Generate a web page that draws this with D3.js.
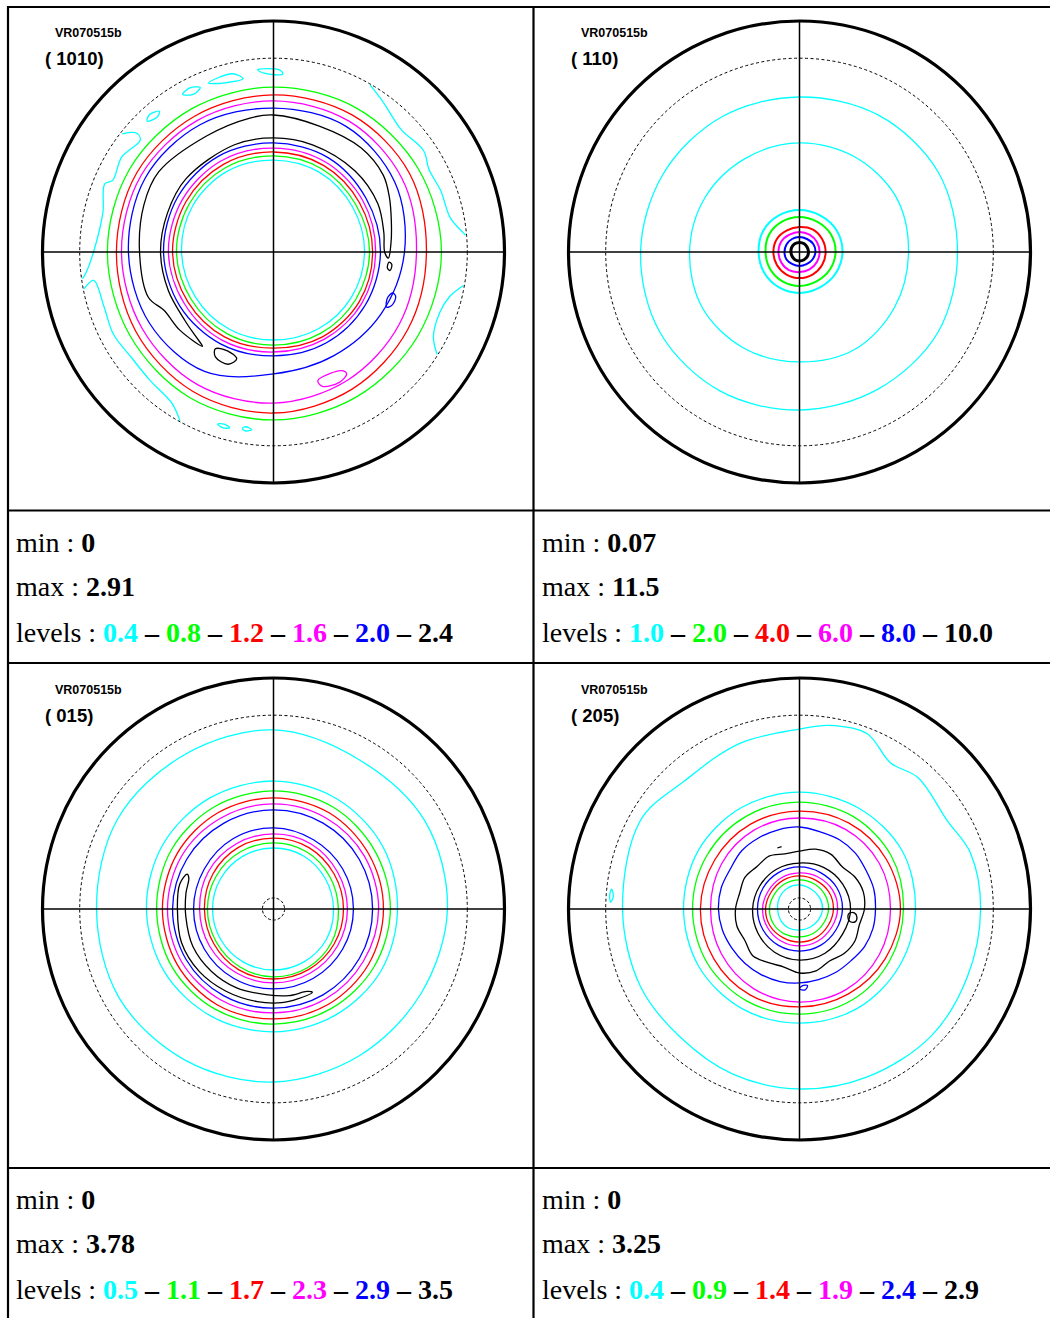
<!DOCTYPE html>
<html><head><meta charset="utf-8">
<script src="https://cdn.jsdelivr.net/npm/d3@7"></script>
<style>body{margin:0;background:#fff}svg{display:block}</style>
</head><body>
<svg id="c" width="1050" height="1318"></svg>
<script>
// ---------------- data ----------------
const sampleName = "VR070515b";
const panelNames = ["( 1010)", "( 110)", "( 015)", "( 205)"];
const minValues = ["0", "0.07", "0", "0"];
const maxValues = ["2.91", "11.5", "3.78", "3.25"];
const levels1010 = ["0.4", "0.8", "1.2", "1.6", "2.0", "2.4"];
const levels110 = ["1.0", "2.0", "4.0", "6.0", "8.0", "10.0"];
const levels015 = ["0.5", "1.1", "1.7", "2.3", "2.9", "3.5"];
const levels205 = ["0.4", "0.9", "1.4", "1.9", "2.4", "2.9"];
const levelColors = ["#00ffff", "#00ff00", "#ff0000", "#ff00ff", "#0000ff", "#000000"];
const dashedChiRadius = 83.9;   // chi = 80 deg circle, % of pole figure radius
const centerMarkRadius = 4.8;

// azimuths (deg, clockwise from top) for ring contours
const az12 = [0, 30, 60, 90, 120, 150, 180, 210, 240, 270, 300, 330];
const az24 = [0, 15, 30, 45, 60, 75, 90, 105, 120, 135, 150, 165, 180, 195, 210, 225, 240, 255, 270, 285, 300, 315, 330, 345];

// ring contours: level index + radii (% of pole figure radius)
const rings1010 = [
  [0, [39.8, 39.8, 39.4, 39.4, 39.0, 38.5, 38.1, 38.5, 39.0, 39.8, 40.3, 40.3]],
  [1, [41.6, 41.6, 41.1, 41.6, 41.1, 40.7, 40.3, 40.7, 41.1, 42.0, 42.0, 42.0]],
  [2, [43.3, 43.3, 42.9, 42.9, 42.9, 42.4, 41.6, 42.4, 42.9, 43.7, 43.7, 43.7]],
  [3, [45.0, 45.0, 44.6, 44.2, 44.2, 43.7, 43.3, 44.2, 44.6, 45.5, 45.5, 45.5]],
  [4, [47.2, 47.2, 46.3, 46.3, 45.9, 45.5, 45.0, 45.9, 46.8, 47.6, 47.8, 47.8]],
  [4, [62.3, 62.8, 60.6, 56.7, 53.7, 51.9, 52.8, 59.7, 61.9, 62.8, 64.1, 63.6]],
  [3, [65.4, 65.4, 64.1, 61.9, 62.8, 64.1, 65.4, 66.2, 65.8, 65.8, 66.2, 65.8]],
  [2, [68.0, 68.4, 68.0, 66.2, 67.1, 68.4, 69.7, 69.7, 68.8, 68.0, 68.4, 68.0]],
  [1, [71.4, 71.9, 72.3, 72.7, 72.3, 72.3, 72.7, 72.7, 71.9, 71.9, 71.9, 71.4]]
];
// free-form contours: level, closed?, points [azimuth, radius%]
const loops1010 = [
  [5, true, [[217, 51.1], [230, 52.8], [242, 53.7], [250, 57.6], [270, 58.0], [290, 59.7], [305, 60.6], [330, 58.0], [350, 58.9], [0, 59.3], [20, 58.0], [40, 58.9], [55, 58.0], [65, 55.4], [75, 52.8], [85, 51.1], [93, 49.8],
             [90, 48.1], [80, 48.5], [65, 49.8], [45, 49.8], [20, 49.4], [0, 49.4], [340, 49.4], [310, 49.4], [290, 48.9], [270, 48.9], [250, 48.5], [232, 48.5], [222, 49.8]]],
  [5, true, [[199, 48.9], [205, 47.2], [211, 48.9], [209, 51.9], [202, 52.4]]],
  [5, true, [[95, 50.2], [98, 49.8], [99, 51.1], [96, 51.5]]],
  [4, true, [[109, 54.5], [112, 53.2], [116, 54.5], [114, 56.3], [110, 56.3]]],
  [3, true, [[150, 59.3], [155, 58.0], [161, 58.9], [160, 61.9], [153, 63.2], [149, 61.5]]],
  [0, false, [[308, 83.1], [311, 78.4], [310, 75.3], [302, 77.5], [294, 76.2], [292, 78.8], [283, 75.8], [270, 77.9], [264, 81.4], [262, 83.5]]],
  [0, false, [[259, 83.5], [261, 78.8], [252, 77.1], [243, 77.9], [233, 76.6], [224, 77.1], [214, 78.8], [210, 82.3], [209, 83.5]]],
  [0, false, [[30, 83.5], [36, 80.5], [46, 76.6], [56, 78.4], [62, 76.2], [70, 77.1], [79, 77.9], [84, 82.3], [85, 83.5]]],
  [0, false, [[100, 83.5], [104, 78.8], [110, 76.6], [118, 78.4], [122, 83.5]]],
  [0, true, [[339, 78.4], [344, 76.2], [350, 76.2], [347, 79.2]]],
  [0, true, [[330, 78.8], [333, 76.6], [336, 77.9], [333, 79.7]]],
  [0, true, [[355, 79.2], [357, 77.5], [3, 77.1], [2, 78.8]]],
  [0, true, [[316, 78.8], [319, 77.1], [321, 78.4], [318, 80.1]]],
  [0, true, [[194, 78.4], [196, 77.5], [198, 78.4], [196, 79.2]]],
  [0, true, [[187, 77.5], [189, 76.6], [190, 77.5], [189, 78.4]]]
];

const rings110 = [
  [0, [67.1, 68.4, 69.3, 68.4, 69.3, 68.4, 68.4, 69.3, 69.7, 68.8, 68.0, 67.5]],
  [0, [47.2, 47.6, 48.1, 47.2, 47.6, 48.5, 47.6, 48.1, 48.5, 47.6, 47.2, 46.8]],
  [0, [18.2, 18.2, 18.6, 18.6, 18.2, 17.7, 17.7, 17.7, 17.7, 17.7, 18.2, 18.2]],
  [1, [15.2, 15.2, 15.6, 15.6, 15.2, 14.7, 14.7, 14.7, 14.7, 14.7, 15.2, 15.2]],
  [2, [10.8, 11.3, 11.3, 11.3, 11.3, 11.3, 11.3, 11.3, 11.3, 11.3, 11.3, 10.8]],
  [3, [8.7, 8.7, 8.7, 8.7, 8.7, 8.7, 8.7, 9.1, 9.1, 9.1, 9.1, 8.7]],
  [4, [6.5, 6.5, 6.9, 6.9, 6.5, 6.1, 6.1, 6.1, 6.5, 6.5, 6.5, 6.5]],
  [5, [4.1, 4.1, 3.9, 3.9, 3.9, 3.9, 3.9, 3.9, 3.7, 3.7, 3.9, 4.1]]
];
const loops110 = [];

const rings015 = [
  [0, [77.5, 74.5, 75.8, 75.3, 73.6, 73.6, 74.9, 75.8, 77.1, 76.6, 77.9, 77.1]],
  [0, [55.4, 55.0, 54.5, 53.7, 53.7, 53.2, 53.2, 53.7, 54.5, 55.0, 55.4, 55.4]],
  [1, [51.1, 51.1, 50.6, 50.6, 50.2, 49.8, 49.8, 50.2, 50.6, 50.6, 51.1, 51.1]],
  [2, [48.1, 48.1, 47.6, 47.6, 47.6, 47.6, 47.6, 48.1, 48.1, 48.1, 48.1, 48.1]],
  [3, [45.5, 45.5, 45.5, 45.5, 45.0, 45.0, 45.0, 45.5, 45.9, 45.9, 45.9, 45.5]],
  [4, [42.9, 42.9, 42.9, 42.9, 42.9, 42.9, 42.9, 43.3, 43.7, 43.7, 43.3, 42.9]],
  [4, [35.1, 34.6, 34.6, 34.6, 34.6, 34.6, 34.6, 34.6, 34.6, 34.6, 34.6, 35.1]],
  [3, [32.5, 32.5, 32.0, 32.0, 32.0, 32.0, 32.0, 32.0, 32.0, 32.0, 32.5, 32.5]],
  [2, [30.7, 30.7, 30.3, 30.3, 30.3, 30.3, 30.3, 30.3, 29.9, 29.9, 30.3, 30.7]],
  [1, [28.6, 28.6, 28.1, 28.1, 29.0, 29.4, 29.4, 29.0, 28.6, 28.6, 28.6, 28.6]],
  [0, [26.4, 26.4, 26.0, 26.0, 26.4, 26.4, 26.4, 26.4, 26.4, 26.4, 26.4, 26.4]]
];
const loops015 = [
  [5, true, [[292, 40.3], [285, 42.0], [270, 41.6], [250, 42.4], [230, 42.0], [210, 41.1], [190, 40.7], [175, 40.7], [165, 40.3], [155, 39.8],
             [158, 38.5], [170, 38.1], [185, 37.2], [205, 37.7], [225, 38.1], [245, 38.5], [265, 38.1], [280, 38.5], [290, 39.0]]]
];

const rings205 = [
  [0, [50.6, 50.6, 51.1, 50.2, 49.8, 49.8, 49.4, 49.8, 50.2, 50.2, 50.6, 50.6]],
  [1, [46.3, 46.3, 45.9, 45.0, 45.0, 45.5, 45.5, 45.9, 46.3, 46.3, 46.3, 46.3]],
  [2, [42.4, 42.9, 43.3, 43.7, 42.9, 42.4, 42.4, 42.9, 42.9, 42.9, 42.4, 42.4]],
  [3, [39.4, 39.8, 39.8, 39.4, 39.8, 40.3, 40.3, 39.8, 39.0, 38.5, 39.0, 39.4]],
  [4, [35.5, 34.6, 34.6, 34.2, 33.3, 33.3, 32.9, 32.9, 32.5, 31.6, 31.6, 31.6, 32.0, 32.5, 32.9, 33.3, 33.8, 34.6, 35.1, 35.1, 34.6, 35.5, 35.5, 35.5]],
  [5, [25.1, 26.8, 27.3, 26.0, 27.7, 28.6, 28.1, 26.8, 27.7, 27.3, 26.0, 27.7, 27.7, 26.0, 26.8, 28.6, 27.3, 28.1, 27.7, 26.8, 27.3, 26.0, 26.4, 24.7]],
  [5, [19.9, 20.8, 21.6, 22.1, 21.6, 22.1, 22.1, 21.6, 20.8, 20.3, 19.9, 19.9]],
  [4, [18.2, 18.2, 18.6, 18.6, 18.2, 18.2, 18.2, 18.2, 18.2, 18.2, 18.2, 18.2]],
  [3, [15.6, 16.0, 16.5, 16.5, 16.0, 16.0, 16.0, 16.0, 16.0, 16.0, 15.6, 15.6]],
  [2, [14.3, 14.3, 14.7, 14.7, 14.3, 14.3, 14.3, 14.3, 14.7, 14.7, 14.3, 14.3]],
  [1, [12.6, 12.6, 12.6, 12.6, 12.1, 12.1, 12.1, 12.6, 13.0, 13.0, 12.6, 12.6]],
  [0, [10.4, 10.0, 10.0, 10.0, 9.5, 9.1, 9.1, 9.5, 9.5, 9.5, 10.0, 10.4]]
];
const loops205 = [
  [0, true, [[0, 77.9], [9, 80.5], [21, 81.4], [32, 74.5], [42, 76.6], [59, 74.5], [72, 77.9], [90, 78.4], [112, 78.4], [134, 79.2], [158, 78.4], [180, 77.9], [202, 77.1], [223, 75.8], [244, 76.6], [270, 76.6], [299, 78.8], [318, 74.5], [340, 76.2]]],
  [0, true, [[272, 81.8], [274, 80.8], [276, 81.8], [274, 82.4]]],
  [5, true, [[95, 21.6], [99, 21.2], [104, 22.5], [103, 24.7], [98, 25.1], [94, 23.8]]],
  [4, true, [[174, 33.3], [178, 33.3], [180, 34.6], [176, 35.1]]],
  [5, false, [[340, 28.1], [344, 28.1]]]
];

// ---------------- drawing ----------------
const svg = d3.select("#c");
const R = 231;
const rScale = d3.scaleLinear().domain([0, 100]).range([0, R]);
const colCenters = [273.5, 799.5];
const rowCenters = [252, 909];

const panels = [
  {name: panelNames[0], levels: levels1010, rings: rings1010, loops: loops1010, col: 0, row: 0, mark: false, min: minValues[0], max: maxValues[0]},
  {name: panelNames[1], levels: levels110, rings: rings110, loops: loops110, col: 1, row: 0, mark: false, min: minValues[1], max: maxValues[1], small: true},
  {name: panelNames[2], levels: levels015, rings: rings015, loops: loops015, col: 0, row: 1, mark: true, min: minValues[2], max: maxValues[2]},
  {name: panelNames[3], levels: levels205, rings: rings205, loops: loops205, col: 1, row: 1, mark: true, min: minValues[3], max: maxValues[3]}
];

// table grid
const grid = svg.append("g").attr("stroke", "#000").attr("stroke-width", 2.2);
grid.append("line").attr("x1", 8).attr("x2", 8).attr("y1", 6).attr("y2", 1318);
grid.append("line").attr("x1", 533.5).attr("x2", 533.5).attr("y1", 6).attr("y2", 1318);
[7, 510.5, 663, 1168].forEach(y => grid.append("line").attr("x1", 7).attr("x2", 1050).attr("y1", y).attr("y2", y));

const rad = d => d * Math.PI / 180;

panels.forEach(p => {
  const cx = colCenters[p.col], cy = rowCenters[p.row];
  const g = svg.append("g").attr("transform", `translate(${cx},${cy})`);

  // contours
  const ringLine = d3.lineRadial().angle(d => rad(d[0])).radius(d => rScale(d[1])).curve(d3.curveCatmullRomClosed.alpha(0.5));
  p.rings.forEach(([lvl, radii]) => {
    const az = radii.length === 24 ? az24 : az12;
    const pts = radii.map((r, i) => [az[i], r]);
    const big = radii[0] > 22;
    g.append("path").attr("d", ringLine(pts)).attr("fill", "none")
      .attr("stroke", levelColors[lvl])
      .attr("stroke-width", p.small && !big ? (lvl === 5 ? 3 : 2) : 1.3);
  });
  p.loops.forEach(([lvl, closed, pts]) => {
    const line = d3.lineRadial().angle(d => rad(d[0])).radius(d => rScale(d[1]))
      .curve(closed ? d3.curveCatmullRomClosed.alpha(0.5) : d3.curveCatmullRom.alpha(0.5));
    g.append("path").attr("d", line(pts)).attr("fill", "none")
      .attr("stroke", levelColors[lvl]).attr("stroke-width", 1.3);
  });

  // frame
  g.append("circle").attr("r", rScale(dashedChiRadius)).attr("fill", "none").attr("stroke", "#000")
    .attr("stroke-width", 1).attr("stroke-dasharray", "3,2.5");
  g.append("line").attr("x1", -R).attr("x2", R).attr("y1", 0).attr("y2", 0).attr("stroke", "#000").attr("stroke-width", 1.5);
  g.append("line").attr("y1", -R).attr("y2", R).attr("x1", 0).attr("x2", 0).attr("stroke", "#000").attr("stroke-width", 1.5);
  g.append("circle").attr("r", R).attr("fill", "none").attr("stroke", "#000").attr("stroke-width", 3.2);
  if (p.mark) {
    g.append("circle").attr("r", rScale(centerMarkRadius)).attr("fill", "none").attr("stroke", "#000")
      .attr("stroke-width", 1).attr("stroke-dasharray", "3,2");
  }

  // labels
  const lx = p.col === 0 ? 0 : 526;
  const ly = p.row === 0 ? 0 : 657;
  svg.append("text").attr("x", 55 + lx).attr("y", 37 + ly).text(sampleName)
    .attr("font-family", "Liberation Sans, Arial, sans-serif").attr("font-weight", "bold").attr("font-size", 12.5);
  svg.append("text").attr("x", 45 + lx).attr("y", 65 + ly).text(p.name)
    .attr("font-family", "Liberation Sans, Arial, sans-serif").attr("font-weight", "bold").attr("font-size", 18.5);

  // info text
  const tx = p.col === 0 ? 16 : 542;
  const ty = p.row === 0 ? 552 : 1209;
  const font = "Liberation Serif, Times New Roman, serif";
  const fs = 28;
  const t1 = svg.append("text").attr("x", tx).attr("y", ty).attr("font-family", font).attr("font-size", fs);
  t1.append("tspan").text("min : ");
  t1.append("tspan").attr("font-weight", "bold").text(p.min);
  const t2 = svg.append("text").attr("x", tx).attr("y", ty + 44).attr("font-family", font).attr("font-size", fs);
  t2.append("tspan").text("max : ");
  t2.append("tspan").attr("font-weight", "bold").text(p.max);
  const t3 = svg.append("text").attr("x", tx).attr("y", ty + 90).attr("font-family", font).attr("font-size", fs);
  t3.append("tspan").text("levels : ");
  p.levels.forEach((v, i) => {
    if (i > 0) t3.append("tspan").attr("font-weight", "bold").text(" \u2013 ");
    t3.append("tspan").attr("font-weight", "bold").attr("fill", levelColors[i]).text(v);
  });
});
</script>
</body></html>
